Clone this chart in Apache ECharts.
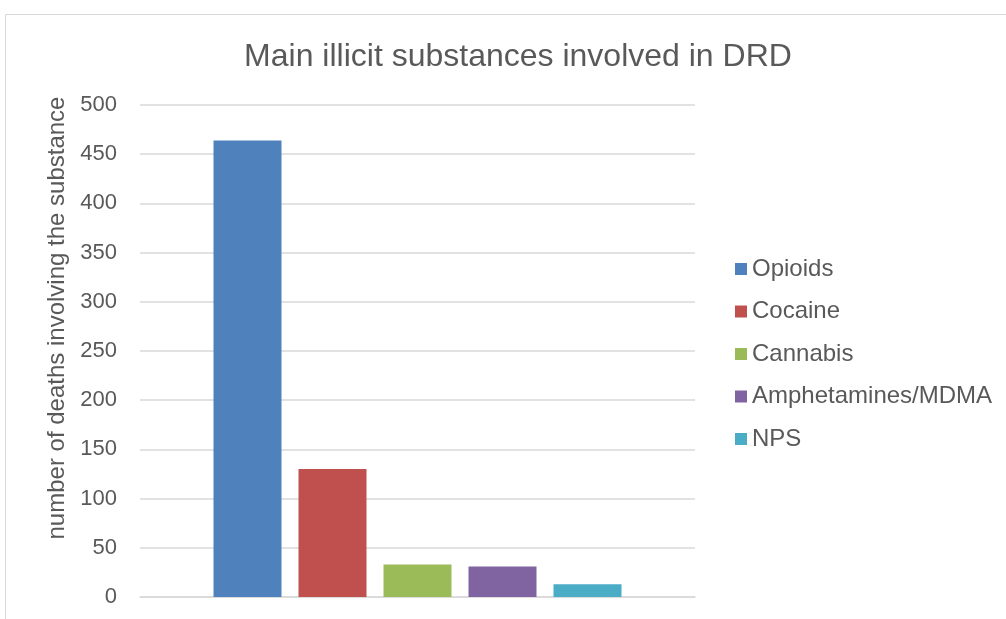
<!DOCTYPE html>
<html>
<head>
<meta charset="utf-8">
<script src="https://cdn.jsdelivr.net/npm/echarts@6/dist/echarts.min.js"></script>
<style>
  html, body { margin: 0; padding: 0; background: #fff; }
  #chart { width: 1006px; height: 619px; }
</style>
</head>
<body>
<div id="chart"></div>
<script>
// substances (one series each, single category like the original)
const substances = ['Opioids', 'Cocaine', 'Cannabis', 'Amphetamines/MDMA', 'NPS'];
const deaths = [464, 130, 33, 31, 13];
const colors = ['#4F81BD', '#C0504D', '#9BBB59', '#8064A2', '#4BACC6'];
const yTicks = { min: 0, max: 500, interval: 50 };

const font = 'Liberation Sans, Arial, sans-serif';
const textColor = '#595959';

const myChart = echarts.init(document.getElementById('chart'));

const seriesList = substances.map((name, i) => ({
    name: name,
    type: 'bar',
    data: [deaths[i]],
    barWidth: 68,
    barGap: '25%',
    itemStyle: { color: colors[i] }
}));

myChart.setOption({
    animation: false,
    textStyle: { fontFamily: font },
    graphic: [{
        type: 'rect',
        shape: { x: 5.5, y: 14.5, width: 1010, height: 620 },
        style: { fill: 'none', stroke: '#d9d9d9', lineWidth: 1 },
        silent: true
    }],
    title: {
        text: 'Main illicit substances involved in DRD',
        left: 513,
        textAlign: 'center',
        top: 36,
        textStyle: { fontFamily: font, fontSize: 32, fontWeight: 'normal', color: textColor }
    },
    legend: {
        orient: 'vertical',
        left: 730,
        top: 252,
        itemWidth: 12,
        itemHeight: 12,
        itemGap: 18.5,
        icon: 'rect',
        data: substances,
        textStyle: { fontFamily: font, fontSize: 24, color: textColor }
    },
    grid: { left: 140, right: 311, top: 105, bottom: 22 },
    xAxis: {
        type: 'category',
        data: [''],
        axisTick: { show: false },
        axisLabel: { show: false },
        axisLine: { lineStyle: { color: '#d9d9d9', width: 1.5 } }
    },
    yAxis: {
        type: 'value',
        min: yTicks.min,
        max: yTicks.max,
        interval: yTicks.interval,
        name: 'number of deaths involving the substance',
        nameLocation: 'middle',
        nameGap: 65,
        nameTextStyle: { fontFamily: font, fontSize: 24, color: textColor, padding: [0, 0, 0, 66] },
        axisLine: { show: false },
        axisTick: { show: false },
        axisLabel: { fontFamily: font, fontSize: 22, color: textColor, margin: 23 },
        splitLine: { lineStyle: { color: '#d9d9d9', width: 1.5 } }
    },
    series: seriesList
});

window.addEventListener('resize', () => myChart.resize());
</script>
</body>
</html>
